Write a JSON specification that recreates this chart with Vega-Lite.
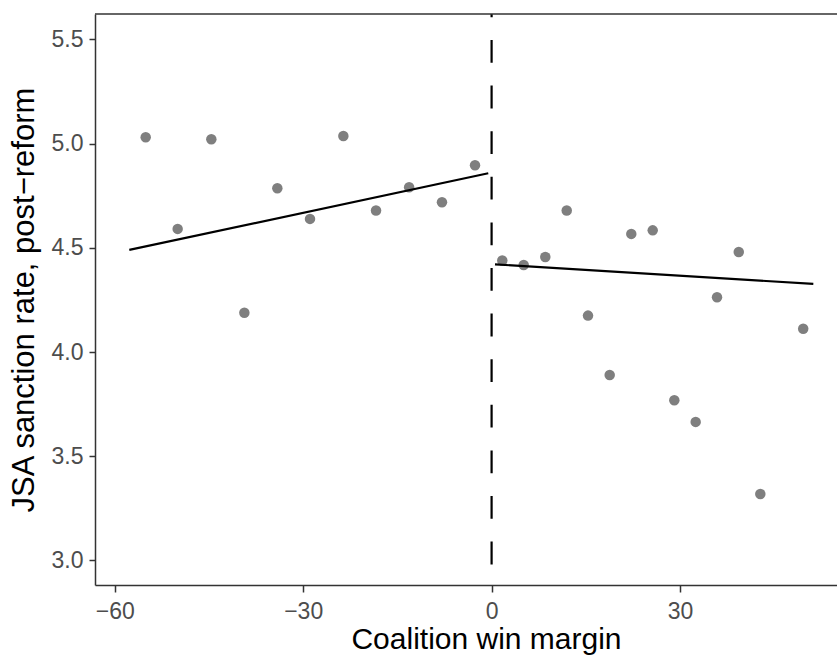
{
  "$schema": "https://vega.github.io/schema/vega-lite/v6.json",
  "width": 742,
  "height": 571,
  "autosize": {"type": "none"},
  "padding": {"left": 95, "top": 14, "right": 0, "bottom": 71},
  "background": "white",
  "config": {
    "font": "Liberation Sans",
    "view": {"stroke": null},
    "axis": {
      "grid": false,
      "domainColor": "#333333",
      "domainWidth": 1.5,
      "tickColor": "#333333",
      "tickWidth": 1.5,
      "labelColor": "#4D4D4D",
      "labelFont": "Liberation Sans",
      "labelFontSize": 23,
      "titleFont": "Liberation Sans",
      "titleFontSize": 31,
      "titleFontWeight": "normal",
      "titleColor": "#000000",
      "labelOverlap": false,
      "labelFlush": false
    }
  },
  "datasets": {
    "points": [
      {"margin": -55.07, "rate": 5.031},
      {"margin": -49.98, "rate": 4.591},
      {"margin": -44.62, "rate": 5.021},
      {"margin": -39.36, "rate": 4.189},
      {"margin": -34.11, "rate": 4.786},
      {"margin": -28.91, "rate": 4.639},
      {"margin": -23.60, "rate": 5.037},
      {"margin": -18.40, "rate": 4.679},
      {"margin": -13.13, "rate": 4.791},
      {"margin": -7.90, "rate": 4.719},
      {"margin": -2.64, "rate": 4.896},
      {"margin": 1.70, "rate": 4.439},
      {"margin": 5.11, "rate": 4.418},
      {"margin": 8.55, "rate": 4.456},
      {"margin": 11.96, "rate": 4.679},
      {"margin": 15.35, "rate": 4.175},
      {"margin": 18.80, "rate": 3.890},
      {"margin": 22.24, "rate": 4.567},
      {"margin": 25.65, "rate": 4.584},
      {"margin": 29.09, "rate": 3.769},
      {"margin": 32.49, "rate": 3.665},
      {"margin": 35.89, "rate": 4.263},
      {"margin": 39.35, "rate": 4.480},
      {"margin": 42.78, "rate": 3.319},
      {"margin": 49.61, "rate": 4.112}
    ],
    "fits": [
      {"side": "left", "margin": -57.68, "rate": 4.490},
      {"side": "left", "margin": -0.53, "rate": 4.858},
      {"side": "right", "margin": 0.54, "rate": 4.421},
      {"side": "right", "margin": 51.22, "rate": 4.327}
    ]
  },
  "layer": [
    {
      "data": {"name": "points"},
      "mark": {"type": "circle", "size": 110, "color": "#7F7F7F", "opacity": 1},
      "encoding": {
        "x": {
          "field": "margin",
          "type": "quantitative",
          "scale": {"domain": [-63.14, 54.99], "nice": false, "zero": false},
          "axis": {
            "title": "Coalition win margin",
            "values": [-60, -30, 0, 30],
            "tickSize": 7,
            "labelPadding": 8,
            "titleBaseline": "alphabetic",
            "titleFontSize": 30,
            "titleY": 63,
            "titleX": 391
          }
        },
        "y": {
          "field": "rate",
          "type": "quantitative",
          "scale": {"domain": [2.8824, 5.622], "nice": false, "zero": false},
          "axis": {
            "title": "JSA sanction rate, post−reform",
            "values": [3, 3.5, 4, 4.5, 5, 5.5],
            "format": ".1f",
            "tickSize": 6,
            "labelPadding": 6,
            "titleBaseline": "alphabetic",
            "titleX": -62
          }
        }
      }
    },
    {
      "data": {"name": "fits"},
      "mark": {"type": "line", "color": "#000000", "strokeWidth": 2.2},
      "encoding": {
        "x": {"field": "margin", "type": "quantitative"},
        "y": {"field": "rate", "type": "quantitative"},
        "detail": {"field": "side"}
      }
    },
    {
      "data": {"values": [{}]},
      "mark": {"type": "rule", "color": "#000000", "strokeWidth": 2.2, "strokeDash": [22.8, 22.8], "strokeDashOffset": 19.6},
      "encoding": {"x": {"datum": 0}}
    },
    {
      "data": {"values": [{}]},
      "mark": {"type": "rule", "color": "#333333", "strokeWidth": 1.5},
      "encoding": {"y": {"datum": 5.622}}
    }
  ]
}
